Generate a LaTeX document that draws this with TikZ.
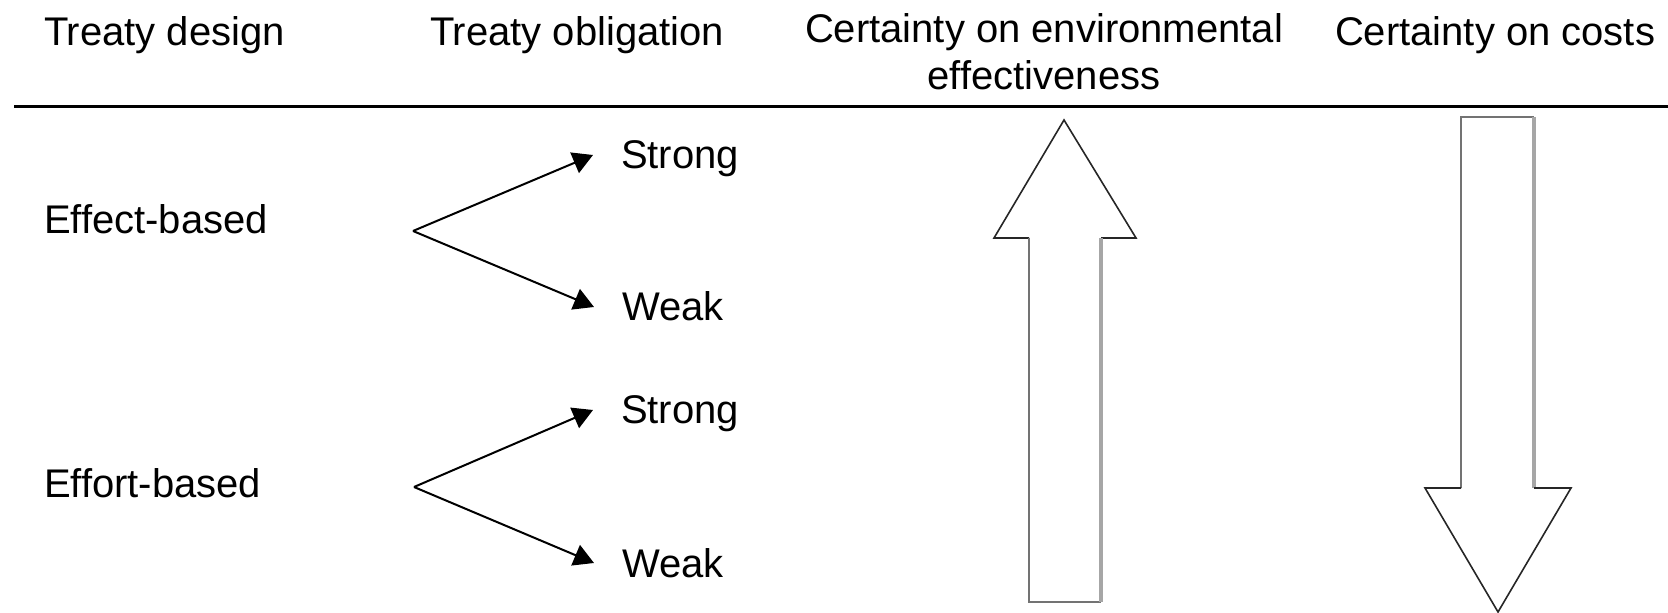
\documentclass[tikz,border=0pt]{standalone}
\usepackage{fontspec}
\setmainfont{Liberation Sans}
\usetikzlibrary{arrows.meta}
\tikzset{
  lbl/.style={inner sep=0pt, outer sep=0pt, font=\fontsize{20}{23.5}\selectfont},
  opt/.style={lbl, anchor=west, text height=15pt, text depth=1pt},
  branch/.style={line width=1pt, -{Triangle[length=10pt,width=11pt]}},
  headedge/.style={line width=0.8pt, black!85},
  shaftdark/.style={line width=1.2pt, black!55},
  shaftlight/.style={line width=1.8pt, black!35},
}
\begin{document}
\begin{tikzpicture}[x=0.5pt,y=-0.5pt]
\useasboundingbox (0,0) rectangle (1668,613);
% header
\node[lbl, anchor=base west] (h1) at (44,46) {Treaty design};
\node[lbl, anchor=base west] (h2) at (430,46) {Treaty obligation};
\node[lbl, anchor=base, align=center] (h3) at (1044,90) {Certainty on environmental\\effectiveness};
\node[lbl, anchor=base west] (h4) at (1335,46) {Certainty on costs};
\draw[line width=1.5pt] (14,107) -- (1668,107);
% left labels
\node[lbl, anchor=base west] (d1) at (44,234) {Effect-based};
\node[lbl, anchor=base west] (d2) at (44,498) {Effort-based};
% options
\node[opt] (s1) at (621,155) {Strong};
\node[opt] (w1) at (622,307) {Weak};
\node[opt] (s2) at (621,410) {Strong};
\node[opt] (w2) at (622,563) {Weak};
\coordinate (v1) at (413,231);
\coordinate (v2) at (414,487);
\draw[branch] (v1) -- ([xshift=-14pt]s1.west);
\draw[branch] (v1) -- ([xshift=-14pt]w1.west);
\draw[branch] (v2) -- ([xshift=-14pt]s2.west);
\draw[branch] (v2) -- ([xshift=-14pt]w2.west);
% up block arrow
\draw[headedge] (1029,238) -- (994,238) -- (1064,120) -- (1136,238) -- (1101,238);
\draw[shaftdark] (1029,238) -- (1029,602) -- (1101,602);
\draw[shaftlight] (1101,238) -- (1101,602);
% down block arrow
\draw[shaftdark] (1461,488) -- (1461,117) -- (1534,117);
\draw[shaftlight] (1534,117) -- (1534,488);
\draw[headedge] (1461,488) -- (1425,488) -- (1498,612) -- (1571,488) -- (1534,488);
\end{tikzpicture}
\end{document}
